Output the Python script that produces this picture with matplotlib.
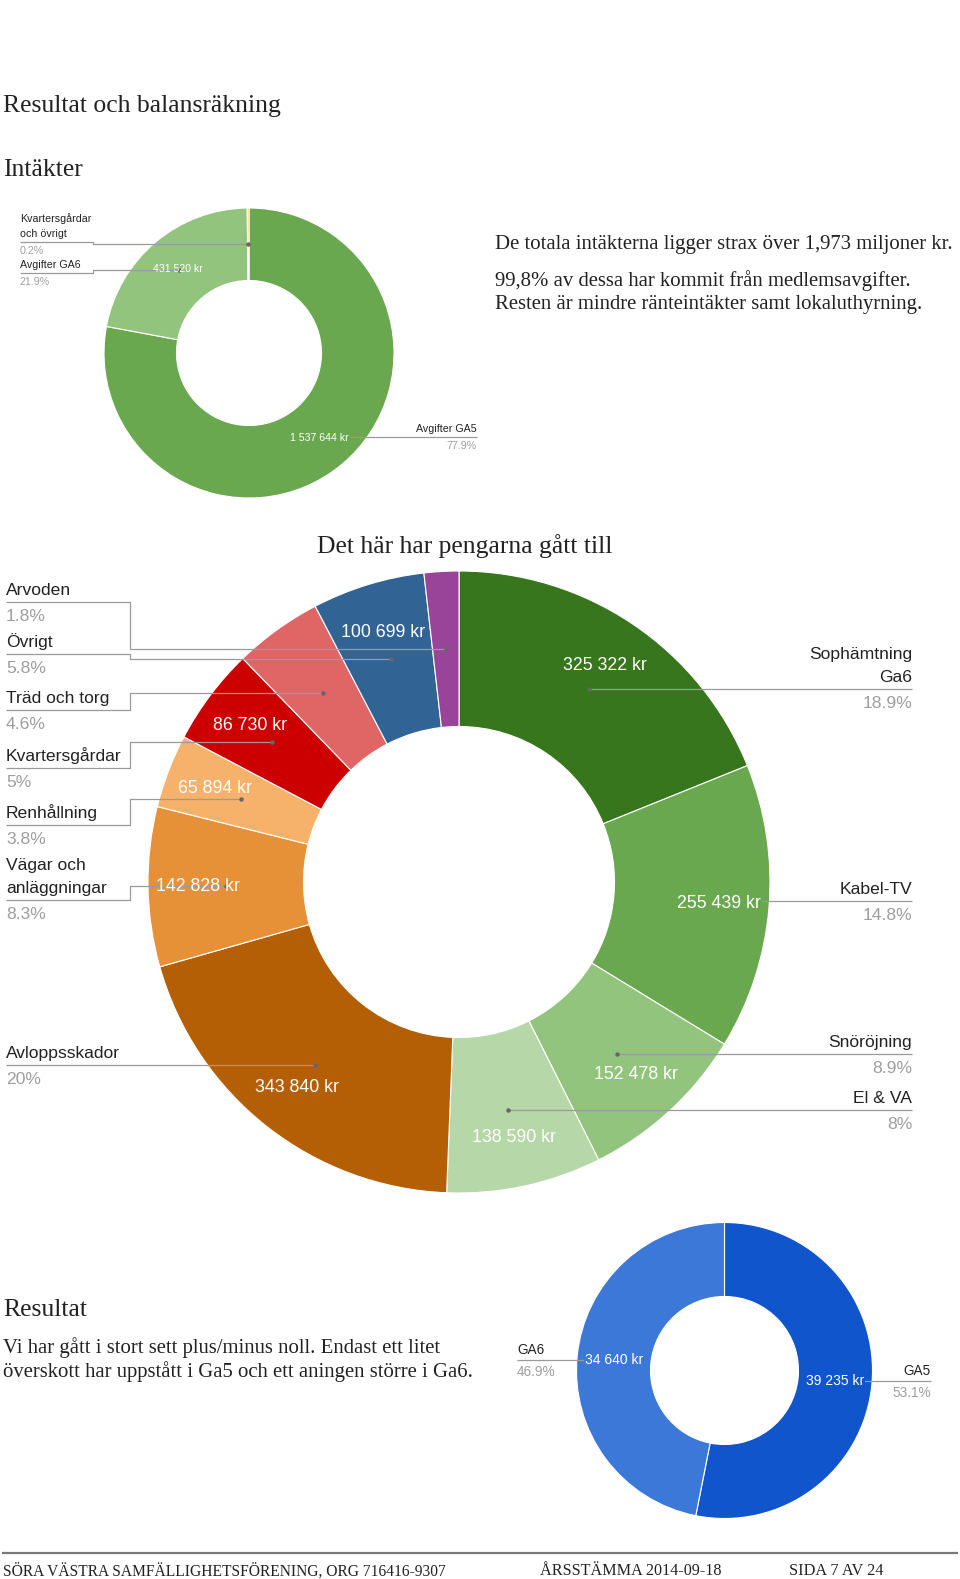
import numpy as np
import matplotlib.pyplot as plt

W, H = 960, 1579
SANS = "Liberation Sans"
SERIF = "Liberation Serif"
LINE = "#9a9a9a"
GREY = "#9e9e9e"
INK = "#222222"

# Intäkter
inc_labels = ["Avgifter GA5", "Avgifter GA6", "Kvartersgårdar\noch övrigt"]
inc_values = [1537644, 431520, 3900]
inc_colors = ["#6aa84f", "#93c47d", "#f1c232"]

# Det här har pengarna gått till
cost_labels = ["Sophämtning\nGa6", "Kabel-TV", "Snöröjning", "El & VA", "Avloppsskador",
               "Vägar och\nanläggningar", "Renhållning", "Kvartersgårdar", "Träd och torg",
               "Övrigt", "Arvoden"]
cost_values = [325322, 255439, 152478, 138590, 343840, 142828, 65894, 86730, 79000, 100699, 31000]
cost_colors = ["#38761d", "#6aa84f", "#93c47d", "#b6d7a8", "#b45f06", "#e69138", "#f6b26b",
               "#cc0000", "#e06666", "#316395", "#994499"]
cost_show = [1, 1, 1, 1, 1, 1, 1, 1, 0, 1, 0]

# Resultat
res_labels = ["GA5", "GA6"]
res_values = [39235, 34640]
res_colors = ["#1155cc", "#3c78d8"]

fig = plt.figure(figsize=(W / 100, H / 100), dpi=100)
fig.patch.set_facecolor("white")


def donut(cx, cy, r, values, colors):
    ax = fig.add_axes([(cx - r) / W, 1 - (cy + r) / H, 2 * r / W, 2 * r / H])
    ax.pie(values, colors=colors, startangle=90, counterclock=False, radius=1,
           wedgeprops=dict(width=0.5, edgecolor="white", linewidth=0.8))
    ax.set_xlim(-1, 1)
    ax.set_ylim(-1, 1)
    frac = np.array(values, dtype=float) / sum(values)
    mids = 2 * np.pi * (np.cumsum(frac) - frac / 2)
    return frac, mids


def polar(cx, cy, r, ang):
    return cx + r * np.sin(ang), cy - r * np.cos(ang)


def pct(f):
    s = f"{100 * f:.1f}"
    if s.endswith(".0"):
        s = s[:-2]
    return s + "%"


def kr(v):
    return f"{v:,} kr".replace(",", " ")


inc_frac, inc_mid = donut(249, 353, 145, inc_values, inc_colors)
cost_frac, cost_mid = donut(459, 882, 311, cost_values, cost_colors)
res_frac, res_mid = donut(724.5, 1370.5, 148, res_values, res_colors)

pg = fig.add_axes([0, 0, 1, 1], zorder=5)
pg.set_xlim(0, W)
pg.set_ylim(H, 0)
pg.axis("off")


def value_label(cx, cy, r, ang, text, fs, mask=None):
    x, y = polar(cx, cy, r, ang)
    kw = {}
    if mask:
        kw["bbox"] = dict(fc=mask, ec="none", pad=0.6)
    pg.text(x, y, text, ha="center", va="center", fontsize=fs, color="white",
            family=SANS, zorder=4, **kw)


def outside_label(side, xt, under, dot, name, p, fs, elbow=None, gap=(4, 6)):
    dx, dy = dot
    if under is None:
        under = dy
    if side == "L":
        if elbow is None:
            xs, ys = [xt, dx], [under, dy]
        else:
            xs, ys = [xt, elbow, elbow, dx], [under, under, dy, dy]
        ha = "left"
    else:
        xs, ys = [dx, xt], [dy, dy]
        ha = "right"
    pg.plot(xs, ys, color=LINE, lw=0.9, zorder=1, solid_capstyle="butt")
    pg.plot(dx, dy, "o", ms=2.2, color="#666666", zorder=1)
    pg.text(xt, under - gap[0], name, ha=ha, va="bottom", fontsize=fs, color=INK,
            family=SANS, linespacing=1.65, multialignment=ha)
    pg.text(xt, under + gap[1], p, ha=ha, va="top", fontsize=fs, color=GREY, family=SANS)


# --- Intäkter donut
cx, cy, R = 249, 353, 145
inc_side = ["R", "L", "L"]
inc_under = [None, 273, 242]
inc_xt = [477, 20, 20]
for i, lab in enumerate(inc_labels):
    dot = polar(cx, cy, 0.75 * R, inc_mid[i])
    outside_label(inc_side[i], inc_xt[i], inc_under[i], dot, lab, pct(inc_frac[i]), 7.7,
                  elbow=93, gap=(3, 4))
for i in range(2):
    value_label(cx, cy, 0.76 * R, inc_mid[i], kr(inc_values[i]), 7.6,
                mask=inc_colors[i] if i == 0 else None)

# --- Kostnader donut
cx, cy, R = 459, 882, 311
cost_side = ["R", "R", "R", "R", "L", "L", "L", "L", "L", "L", "L"]
cost_under = [None, None, None, None, None, 900, 825, 768, 710, 654, 602]
for i, lab in enumerate(cost_labels):
    dot = polar(cx, cy, 0.75 * R, cost_mid[i])
    xt = 912 if cost_side[i] == "R" else 6
    outside_label(cost_side[i], xt, cost_under[i], dot, lab, pct(cost_frac[i]), 12.6,
                  elbow=130, gap=(4, 7))
for i, v in enumerate(cost_values):
    if cost_show[i]:
        value_label(cx, cy, 0.84 * R, cost_mid[i], kr(v), 12.8,
                    mask=cost_colors[i] if i == 1 else None)

# --- Resultat donut
cx, cy, R = 724.5, 1370.5, 148
res_side = ["R", "L"]
res_xt = [931, 517]
for i, lab in enumerate(res_labels):
    dot = polar(cx, cy, 0.75 * R, res_mid[i])
    outside_label(res_side[i], res_xt[i], None, dot, lab, pct(res_frac[i]), 9.8, gap=(3, 5))
    value_label(cx, cy, 0.75 * R, res_mid[i], kr(res_values[i]), 10, mask=res_colors[i])

# --- page text
renderer = fig.canvas.get_renderer()


def fit(t, width):
    w = t.get_window_extent(renderer).width
    t.set_fontsize(t.get_fontsize() * width / w)
    return t.get_fontsize()


def ptext(x, y, s, size, ha="left", **kw):
    # +2 px: visual centre of the line sits below the box centre
    return pg.text(x, y + 2, s, ha=ha, va="center", fontsize=size, family=SERIF, color=INK, **kw)


h1 = fit(ptext(3, 104, "Resultat och balansräkning", 16), 277)
ptext(3, 168, "Intäkter", h1)
ptext(3, 1308, "Resultat", h1)

body = fit(ptext(495, 243, "De totala intäkterna ligger strax över 1,973 miljoner kr.", 13), 458)
ptext(495, 279, "99,8% av dessa har kommit från medlemsavgifter.", body)
ptext(495, 303, "Resten är mindre ränteintäkter samt lokaluthyrning.", body)
ptext(3, 1346, "Vi har gått i stort sett plus/minus noll. Endast ett litet", body)
ptext(3, 1370, "överskott har uppstått i Ga5 och ett aningen större i Ga6.", body)

h2 = fit(ptext(465, 544, "Det här har pengarna gått till", 16, ha="center"), 295)

pg.plot([3, 957], [1553, 1553], color="#7a7a7a", lw=1.6)
fit(ptext(3, 1569, "SÖRA VÄSTRA SAMFÄLLIGHETSFÖRENING, ORG 716416-9307", 10), 444)
fit(ptext(540, 1569, "ÅRSSTÄMMA 2014-09-18", 10), 181)
fit(ptext(789, 1569, "SIDA 7 AV 24", 10), 94)

fig.savefig("out.png", dpi=100, facecolor="white")
